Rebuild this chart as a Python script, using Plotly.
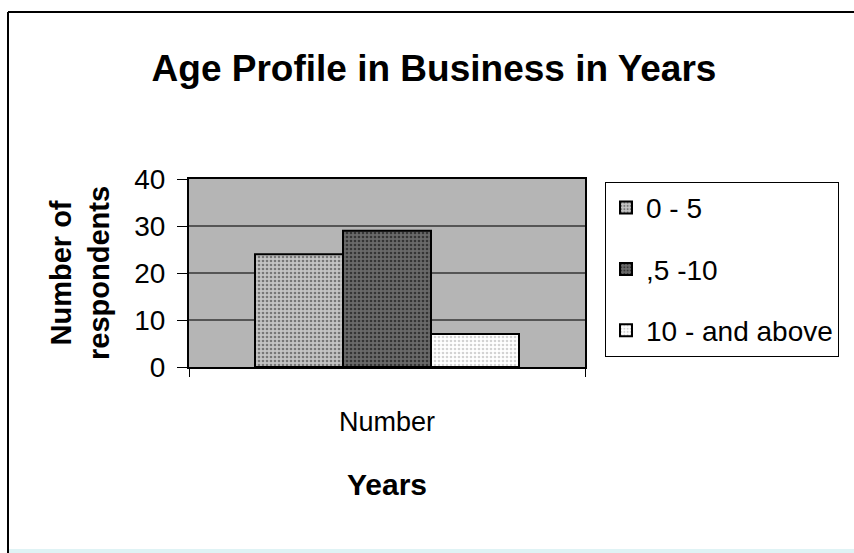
import plotly.graph_objects as go

# Survey data: respondents by years in business
category = ["Number"]
age_groups = ["0 - 5", ",5 -10", "10 - and above"]
respondents = [24, 29, 7]

# Fill style per age group (pattern foreground / background)
fills = [
    dict(fg="#2a2a2a", bg="#c4c4c4"),
    dict(fg="#000000", bg="#6a6a6a"),
    dict(fg="#a8a8a8", bg="#ffffff"),
]

FONT = "Liberation Sans, Arial, sans-serif"

fig = go.Figure()
for i, (name, val) in enumerate(zip(age_groups, respondents)):
    fig.add_trace(go.Bar(
        x=category,
        y=[val],
        name=name,
        legendgroup=str(i),
        marker=dict(
            color=fills[i]["bg"],
            line=dict(color="black", width=2),
            pattern=dict(shape=".", fgcolor=fills[i]["fg"], bgcolor=fills[i]["bg"],
                         size=4, solidity=0.35, fillmode="overlay"),
        ),
    ))

fig.update_layout(
    width=854,
    height=553,
    margin=dict(l=189, r=269, t=179, b=186),
    paper_bgcolor="white",
    plot_bgcolor="#b5b5b5",
    barmode="group",
    bargap=1 / 3,
    bargroupgap=0,
    font=dict(family=FONT, color="black", size=24),
    title=dict(
        text="<b>Age Profile in Business in Years</b>",
        x=434 / 854, xref="container", xanchor="center",
        y=1 - 68 / 553, yref="container", yanchor="middle",
        font=dict(size=37, family=FONT),
    ),
    showlegend=True,
    legend=dict(
        x=(605 - 189) / 396, xanchor="left",
        y=0.985, yanchor="top",
        bgcolor="white",
        bordercolor="black",
        borderwidth=1,
        font=dict(size=28, family=FONT),
        tracegroupgap=22,
        itemwidth=30,
    ),
    xaxis=dict(
        tickson="boundaries",
        ticks="outside",
        ticklen=8,
        tickcolor="black",
        ticklabelstandoff=30,
        showline=True, linecolor="black", linewidth=2, mirror=True,
        showgrid=False,
        tickfont=dict(size=27),
        title=dict(text="<b>Years</b>", standoff=38, font=dict(size=30)),
    ),
    yaxis=dict(
        range=[0, 40],
        tickvals=[0, 10, 20, 30, 40],
        ticks="outside",
        ticklen=10,
        tickcolor="black",
        ticklabelstandoff=6,
        showline=True, linecolor="black", linewidth=2, mirror=True,
        showgrid=True, gridcolor="#555555", gridwidth=1.5,
        zeroline=False,
        tickfont=dict(size=28),
        title=dict(text="<b>Number of<br>respondents</b>", standoff=16, font=dict(size=29)),
    ),
    shapes=[
        # outer chart frame: left and top edges
        dict(type="line", xref="paper", yref="paper",
             x0=(8 - 189) / 396, x1=(8 - 189) / 396,
             y0=(367 - 560) / 188, y1=(367 - 12) / 188,
             line=dict(color="black", width=2)),
        dict(type="line", xref="paper", yref="paper",
             x0=(8 - 189) / 396, x1=(870 - 189) / 396,
             y0=(367 - 12) / 188, y1=(367 - 12) / 188,
             line=dict(color="black", width=2)),
        # pale strip along the bottom edge
        dict(type="rect", xref="paper", yref="paper",
             x0=(9 - 189) / 396, x1=(870 - 189) / 396,
             y0=(367 - 560) / 188, y1=(367 - 549) / 188,
             line=dict(width=0), fillcolor="#dff3f5", layer="below"),
    ],
)

fig.write_html("out.html")
